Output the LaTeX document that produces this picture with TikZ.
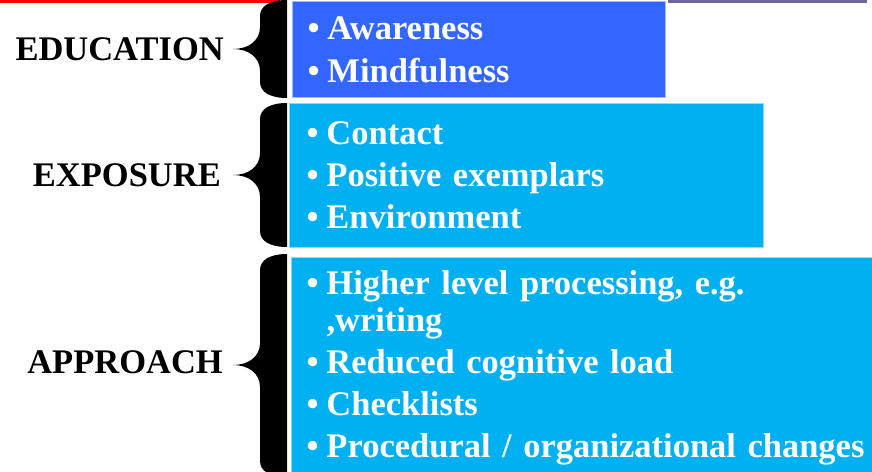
\documentclass[tikz,border=0pt]{standalone}
\usepackage{fontspec}
\setmainfont{Liberation Serif}
\usepackage{xcolor}
\usepackage{tikz}
\usetikzlibrary{positioning}
\definecolor{edublue}{RGB}{51,102,255}
\definecolor{skyblue}{RGB}{0,176,240}
\definecolor{slidegray}{RGB}{110,104,152}
\newcommand{\itembul}{\makebox[20pt][l]{\textbullet}}

\begin{document}
\begin{tikzpicture}[x=1pt,y=1pt,node distance=68pt,
                    font=\fontsize{34.5}{37}\selectfont\bfseries]
 \tikzstyle{group}=[text=black, inner sep=0pt]
 \tikzstyle{listbox}=[anchor=north west, text=white, align=left, inner xsep=15pt, inner ysep=0pt, line width=1pt]
  \useasboundingbox (0,0) rectangle (872,-471);
  \fill[red] (0,0) rectangle (280,-2.5);
  \fill[slidegray] (668,0) rectangle (867,-2.5);
  \node[listbox, fill=edublue, draw=edublue!45!white, minimum width=373pt, minimum height=96pt, text width=343pt] (edulist) at (292,-1)
    {\itembul Awareness\\[6pt] \itembul Mindfulness};
  \node[listbox, fill=skyblue, draw=skyblue!45!white, minimum width=474pt, minimum height=144pt, text width=440pt, inner xsep=17pt] (expolist) at (289,-103)
    {\itembul Contact\\[5pt] \itembul Positive exemplars\\[5pt] \itembul Environment};
  \node[listbox, fill=skyblue, draw=skyblue!45!white, minimum width=600pt, minimum height=220pt, text width=570pt] (apprlist) at (291,-257)
    {\itembul Higher level processing, e.g.\\ \hspace*{20pt},writing\\[5pt] \itembul Reduced cognitive load\\[5pt] \itembul Checklists\\[5pt] \itembul Procedural / organizational changes};
\node[group] (edu) [left = of edulist] {EDUCATION};
\node[group] (expo) [left = of expolist] {EXPOSURE};
\node[group] (appr) [left = of apprlist, yshift=5pt] {APPROACH};
\fill (287,0) -- (287,-98) .. controls (270,-98) and (260,-92) .. (260,-82) -- (260,-71) .. controls (260,-57) and (248,-49) .. (233,-49) .. controls (248,-49) and (260,-41) .. (260,-27) -- (260,-16) .. controls (260,-6) and (270,0) .. (287,0) -- cycle;
\fill (287,-103) -- (287,-247) .. controls (270,-247) and (260,-241) .. (260,-231) -- (260,-197) .. controls (260,-183) and (248,-175) .. (233,-175) .. controls (248,-175) and (260,-167) .. (260,-153) -- (260,-119) .. controls (260,-109) and (270,-103) .. (287,-103) -- cycle;
\fill (287,-254) -- (287,-477) .. controls (270,-477) and (260,-471) .. (260,-461) -- (260,-387) .. controls (260,-373) and (248,-365) .. (233,-365) .. controls (248,-365) and (260,-357) .. (260,-343) -- (260,-270) .. controls (260,-260) and (270,-254) .. (287,-254) -- cycle;
\end{tikzpicture}
\end{document}
